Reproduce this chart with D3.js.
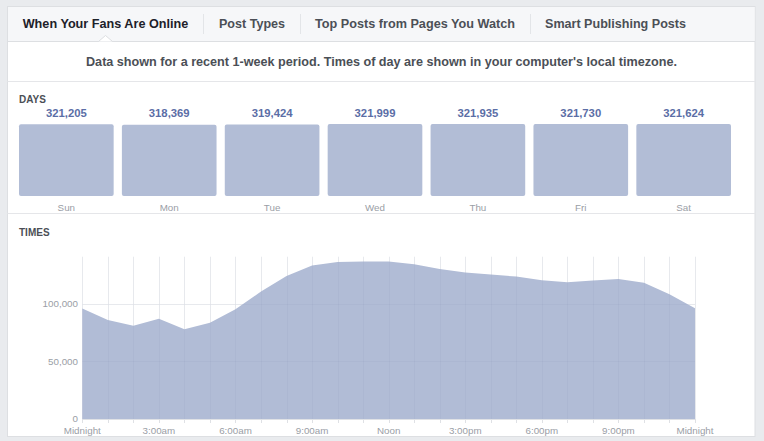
<!DOCTYPE html>
<html>
<head>
<meta charset="utf-8">
<script src="https://cdn.jsdelivr.net/npm/d3@7"></script>
<style>
  html, body { margin: 0; padding: 0; background: #e9ebee; }
  svg { display: block; font-family: Helvetica, Arial, "Liberation Sans", sans-serif; }
</style>
</head>
<body>
<svg id="chart" width="764" height="441"></svg>
<script>
// ---------- data ----------
const tabLabels = ["When Your Fans Are Online", "Post Types", "Top Posts from Pages You Watch", "Smart Publishing Posts"];
const subtitle = "Data shown for a recent 1-week period. Times of day are shown in your computer's local timezone.";
const days = ["Sun", "Mon", "Tue", "Wed", "Thu", "Fri", "Sat"];
const dayValues = [321205, 318369, 319424, 321999, 321935, 321730, 321624];
const hours = [0,1,2,3,4,5,6,7,8,9,10,11,12,13,14,15,16,17,18,19,20,21,22,23,24];
const hourValues = [95900, 86100, 81100, 87000, 78000, 83700, 95400, 110700, 124300, 133300, 136500, 136800,
                    136800, 134500, 130400, 127200, 125500, 123700, 120600, 118900, 120300, 121700, 118300, 108400, 96300];
const xTickHours = [0, 3, 6, 9, 12, 15, 18, 21, 24];
const xTickLabels = ["Midnight", "3:00am", "6:00am", "9:00am", "Noon", "3:00pm", "6:00pm", "9:00pm", "Midnight"];
const yTickValues = [0, 50000, 100000];

// ---------- layout ----------
const svg = d3.select("#chart");
const border = "#dddfe2";
const panel = {x: 7.5, y: 6.5, w: 747.5, h: 430};

svg.append("rect").attr("x", panel.x).attr("y", panel.y).attr("width", panel.w).attr("height", panel.h)
  .attr("fill", "#fff").attr("stroke", border);
svg.append("rect").attr("x", panel.x + 0.5).attr("y", panel.y + 0.5).attr("width", panel.w - 1).attr("height", 34.5)
  .attr("fill", "#f6f7f9");
svg.append("line").attr("x1", panel.x).attr("x2", panel.x + panel.w).attr("y1", 41.5).attr("y2", 41.5).attr("stroke", border);

// tabs
const tabPos = [{x: 22.7, w: 165.6}, {x: 219, w: 66}, {x: 315, w: 200}, {x: 545, w: 141}];
svg.selectAll("text.tab").data(tabLabels).join("text")
  .attr("class", "tab")
  .attr("x", (d, i) => tabPos[i].x).attr("y", 27.5)
  .attr("textLength", (d, i) => tabPos[i].w).attr("lengthAdjust", "spacingAndGlyphs")
  .attr("font-size", 12.8).attr("font-weight", "bold")
  .attr("fill", (d, i) => i === 0 ? "#1d2129" : "#4b4f56")
  .text(d => d);
[203.5, 300.5, 530.5].forEach(x => {
  svg.append("line").attr("x1", x).attr("x2", x).attr("y1", 14).attr("y2", 34).attr("stroke", "#e3e5e8");
});
// notch under active tab
svg.append("path").attr("d", "M98.5,41.5 L105.5,35.5 L112.5,41.5 Z").attr("fill", "#fff");
svg.append("path").attr("d", "M98.5,41.5 L105.5,35.5 L112.5,41.5").attr("fill", "none").attr("stroke", border);

// subtitle
svg.append("text").attr("x", 86).attr("y", 66)
  .attr("textLength", 591).attr("lengthAdjust", "spacingAndGlyphs")
  .attr("font-size", 12.8).attr("font-weight", "bold").attr("fill", "#4b4f56")
  .text(subtitle);
svg.append("line").attr("x1", panel.x).attr("x2", panel.x + panel.w).attr("y1", 81.5).attr("y2", 81.5).attr("stroke", "#e5e6e9");

// ---------- DAYS ----------
svg.append("text").attr("x", 19).attr("y", 102.8).attr("font-size", 10).attr("font-weight", "bold")
  .attr("fill", "#4b4f56").text("DAYS");

const xBand = d3.scaleBand().domain(days).range([19, 731]).paddingInner(0.08).paddingOuter(0);
const yDay = d3.scaleLinear().domain([0, d3.max(dayValues)]).range([196, 124]);
const dayData = days.map((d, i) => ({day: d, value: dayValues[i]}));

svg.selectAll("rect.day").data(dayData).join("rect")
  .attr("class", "day")
  .attr("x", d => xBand(d.day)).attr("width", xBand.bandwidth())
  .attr("y", d => yDay(d.value)).attr("height", d => yDay(0) - yDay(d.value))
  .attr("rx", 2).attr("fill", "#b2bdd6");

const fmt = d3.format(",");
svg.selectAll("text.dayval").data(dayData).join("text")
  .attr("class", "dayval")
  .attr("x", d => xBand(d.day) + xBand.bandwidth() / 2).attr("y", 116.5)
  .attr("text-anchor", "middle").attr("font-size", 11.3).attr("font-weight", "bold").attr("fill", "#5b6ea6")
  .text(d => fmt(d.value));
svg.selectAll("text.daylab").data(dayData).join("text")
  .attr("class", "daylab")
  .attr("x", d => xBand(d.day) + xBand.bandwidth() / 2).attr("y", 210.5)
  .attr("text-anchor", "middle").attr("font-size", 9.8).attr("fill", "#9a9ea6")
  .text(d => d.day);
svg.append("line").attr("x1", panel.x).attr("x2", panel.x + panel.w).attr("y1", 213.5).attr("y2", 213.5).attr("stroke", "#e5e6e9");

// ---------- TIMES ----------
svg.append("text").attr("x", 19).attr("y", 236).attr("font-size", 10).attr("font-weight", "bold")
  .attr("fill", "#4b4f56").text("TIMES");

const x = d3.scaleLinear().domain([0, 24]).range([82.3, 695]);
const y = d3.scaleLinear().domain([0, 141000]).range([419, 256.7]);
const timeData = hours.map((h, i) => ({h: h, v: hourValues[i]}));

function drawGrid(g, color) {
  g.selectAll("line.v").data(hours).join("line").attr("class", "v")
    .attr("x1", d => Math.round(x(d)) + 0.5).attr("x2", d => Math.round(x(d)) + 0.5)
    .attr("y1", y.range()[1]).attr("y2", 419).attr("stroke", color);
  g.selectAll("line.h").data(yTickValues.filter(v => v > 0)).join("line").attr("class", "h")
    .attr("x1", x(0)).attr("x2", x(24))
    .attr("y1", d => Math.round(y(d)) + 0.5).attr("y2", d => Math.round(y(d)) + 0.5).attr("stroke", color);
}
drawGrid(svg.append("g"), "#eef0f2");

const area = d3.area().x(d => x(d.h)).y0(y(0)).y1(d => y(d.v));
svg.append("path").datum(timeData).attr("d", area).attr("fill", "#b1bcd6");

drawGrid(svg.append("g"), "rgba(60,70,100,0.035)");

// baseline and ticks
svg.append("line").attr("x1", x(0)).attr("x2", x(24)).attr("y1", 419.5).attr("y2", 419.5).attr("stroke", "#dfe1e5");
svg.selectAll("line.tick").data(hours).join("line").attr("class", "tick")
  .attr("x1", d => Math.round(x(d)) + 0.5).attr("x2", d => Math.round(x(d)) + 0.5)
  .attr("y1", 419).attr("y2", 423).attr("stroke", "#dfe1e5");

svg.selectAll("text.xlab").data(xTickHours).join("text").attr("class", "xlab")
  .attr("x", d => x(d)).attr("y", 434.2)
  .attr("text-anchor", "middle").attr("font-size", 9.8).attr("fill", "#9a9ea6")
  .text((d, i) => xTickLabels[i]);

svg.selectAll("text.ylab").data(yTickValues).join("text").attr("class", "ylab")
  .attr("x", 78).attr("y", d => y(d) + 3.4)
  .attr("text-anchor", "end").attr("font-size", 9.8).attr("fill", "#9a9ea6")
  .text(d => fmt(d));
</script>
</body>
</html>
